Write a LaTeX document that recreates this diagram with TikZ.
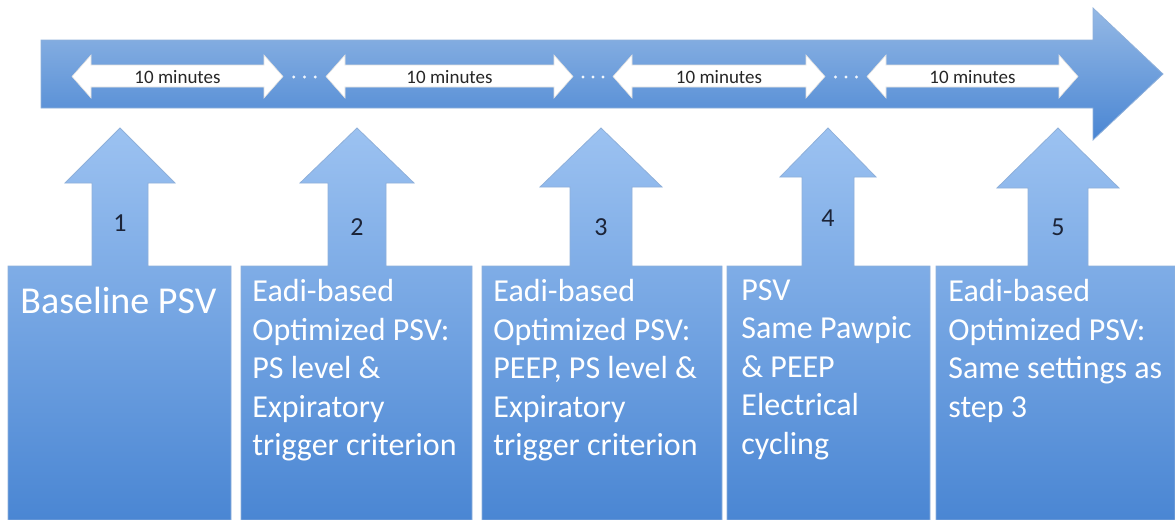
\documentclass[tikz,border=0pt]{standalone}
\usepackage{fontspec}
\setmainfont{Carlito}
\definecolor{boxtop}{HTML}{9CC2F1}
\definecolor{boxbottom}{HTML}{4A86D3}
\definecolor{boxedge}{HTML}{8FB0DA}
\definecolor{numcolor}{HTML}{1C2438}
\begin{document}
\begin{tikzpicture}[x=0.5pt,y=-0.5pt,
    stepbox/.style={top color=boxtop, bottom color=boxbottom, draw=boxedge, line width=0.4pt},
    timeline/.style={top color=boxtop!95!black, bottom color=boxbottom, draw=boxedge, line width=0.4pt},
    span/.style={fill=white, draw=gray!25, line width=0.3pt},
    steptext/.style={anchor=north west, inner sep=0pt, text=white, align=left, font=\fontsize{16}{19.25}\selectfont},
    stepnum/.style={text=numcolor, font=\fontsize{13}{15}\selectfont},
    minutes/.style={text=black!85, font=\fontsize{9.5}{11}\selectfont}]
    \useasboundingbox (0,0) rectangle (1175,520);
    % Timeline arrow
    \path[timeline] (41,40) -- (1093,40) -- (1093,8) -- (1163,74) -- (1093,140) -- (1093,108) -- (41,108) -- cycle;
    % 10 minute spans
    \foreach \i/\l/\r in {1/72/283, 2/326/573, 3/613/825, 4/867/1078} {
        \path[span] (\l,76.5) -- (\l+19,55) -- (\l+19,65) -- (\r-19,65) -- (\r-19,55) -- (\r,76.5)
            -- (\r-19,98) -- (\r-19,87) -- (\l+19,87) -- (\l+19,98) -- cycle;
        \node[minutes] (span\i) at ({(\l+\r)/2},77) {10 minutes};
    }
    % dots between spans
    \foreach \a/\b in {283/326, 573/613, 825/867}
        \foreach \k in {1,2,3}
            \fill[white!85!boxtop] ({\a+\k*(\b-\a)/4},77) circle (1.6);
    % Step callouts
    \foreach \n/\bl/\br/\ax/\hb/\hw/\sw/\ny in {1/8/231/120/183/55/28/223, 2/241/472/357/183/57/29/227,
            3/482/722/601/187/61/31/227, 4/727/930/828/177/48/26/218, 5/936/1175/1058/188/61/30/227} {
        \path[stepbox] (\bl,520) -- (\bl,266) -- (\ax-\sw,266) -- (\ax-\sw,\hb) -- (\ax-\hw,\hb) -- (\ax,128)
            -- (\ax+\hw,\hb) -- (\ax+\sw,\hb) -- (\ax+\sw,266) -- (\br,266) -- (\br,520) -- cycle;
        \node[stepnum] (num\n) at (\ax,\ny) {\n};
    }
    % Step texts
    \node[steptext, font=\fontsize{19}{22}\selectfont] (box1) at (20,287) {Baseline PSV};
    \node[steptext] (box2) at (252,279) {Eadi-based\\Optimized PSV:\\PS level \&\\Expiratory\\trigger criterion};
    \node[steptext] (box3) at (493,279) {Eadi-based\\Optimized PSV:\\PEEP, PS level \&\\Expiratory\\trigger criterion};
    \node[steptext] (box4) at (741,279) {PSV\\Same Pawpic\\\& PEEP\\Electrical\\cycling};
    \node[steptext] (box5) at (948,279) {Eadi-based\\Optimized PSV:\\Same settings as\\step 3};
\end{tikzpicture}
\end{document}
